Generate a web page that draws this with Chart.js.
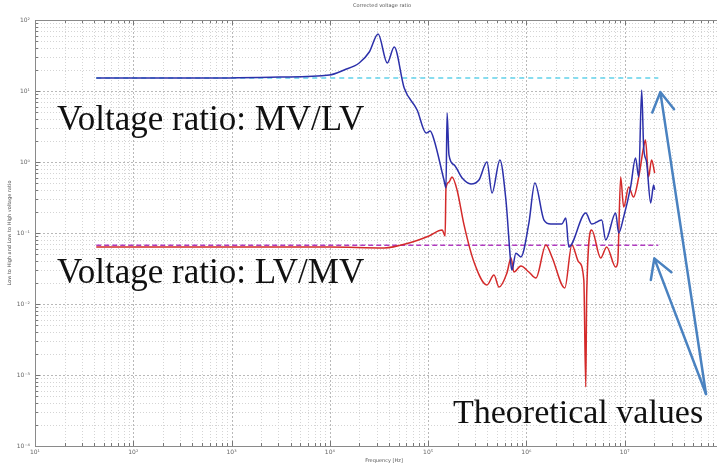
<!DOCTYPE html>
<html>
<head>
<meta charset="utf-8">
<script src="https://cdn.jsdelivr.net/npm/chart.js@4/dist/chart.umd.min.js"></script>
<style>
  html, body { margin: 0; padding: 0; background: #fff; }
  #wrap { width: 717px; height: 465px; }
</style>
</head>
<body>
<div id="wrap"><canvas id="ratioChart" width="717" height="465"></canvas></div>
<script>
// measured MV/LV ratio (blue)
const blueFreq = [42, 473, 3070, 9900, 14000, 19900, 25200, 31000, 38400, 45200, 57100, 77300, 95400, 105000, 115000,
  145000, 152000, 156000, 163000, 184000, 221000, 273000, 329000, 397000, 447000, 538000, 619000, 697000, 713000,
  782000, 879000, 1.06e6, 1.22e6, 1.51e6, 1.77e6, 2.29e6, 2.52e6, 2.70e6, 4.02e6, 4.62e6, 5.84e6, 6.41e6, 8.1e6,
  8.69e6, 9.77e6, 1.15e7, 1.29e7, 1.39e7, 1.49e7, 1.56e7, 1.67e7, 1.84e7, 1.97e7, 2.02e7];
const blueRatio = [15.2, 15.2, 15.7, 16.8, 19.8, 24.8, 35.4, 63.5, 24.8, 41.7, 11.0, 5.4, 2.56, 2.73, 2.04,
  0.557, 0.431, 4.9, 1.26, 0.91, 0.60, 0.49, 0.557, 1.0, 0.366, 1.07, 0.292, 0.0354, 0.030,
  0.052, 0.046, 0.138, 0.506, 0.152, 0.134, 0.134, 0.163, 0.0636, 0.191, 0.134, 0.152, 0.080, 0.191,
  0.1, 0.168, 0.445, 1.14, 0.615, 10.3, 1.63, 1.0, 0.265, 0.474, 0.404];

// measured LV/MV ratio (red)
const redFreq = [42, 9900, 35700, 64100, 102000, 139000, 149000, 152000, 163000, 175000, 197000, 232000, 293000,
  397000, 468000, 526000, 634000, 697000, 747000, 879000, 1.06e6, 1.25e6, 1.58e6, 1.82e6, 2.46e6, 2.90e6, 3.41e6,
  3.84e6, 4.02e6, 4.11e6, 4.62e6, 5.70e6, 6.56e6, 8.1e6, 8.5e6, 9.1e6, 9.77e6, 1.10e7, 1.23e7, 1.39e7, 1.56e7,
  1.63e7, 1.75e7, 1.88e7, 2.02e7];
const redRatio = [0.0636, 0.0636, 0.0616, 0.0723, 0.0908, 0.110, 0.0908, 0.431, 0.52, 0.615, 0.404, 0.130, 0.039,
  0.0185, 0.0256, 0.0173, 0.0274, 0.0445, 0.0282, 0.0343, 0.0282, 0.0232, 0.0678, 0.046, 0.0168, 0.0678, 0.039,
  0.0218, 0.00068, 0.0143, 0.110, 0.0445, 0.0636, 0.0332, 0.039, 0.615, 0.232, 0.445, 0.321, 0.615, 1.63,
  2.04, 0.615, 1.07, 0.70];

// theoretical values (dashed)
const theoryFreq = [42, 2.2e7];
const mvlvTheory = [15.2, 15.2];
const lvmvTheory = [0.067, 0.067];

const xDecades = [1e1, 1e2, 1e3, 1e4, 1e5, 1e6, 1e7];
const yDecades = [1e-4, 1e-3, 1e-2, 1e-1, 1e0, 1e1, 1e2];

const sup = { '-': '⁻', '0': '⁰', '1': '¹', '2': '²', '3': '³', '4': '⁴', '5': '⁵', '6': '⁶', '7': '⁷', '8': '⁸', '9': '⁹' };
function powLabel(v) {
    const e = String(Math.round(Math.log10(v)));
    return '10' + e.split('').map(c => sup[c]).join('');
}

function pairs(xs, ys) {
    return xs.map((x, i) => ({ x: x, y: ys[i] }));
}

function logGrid(min, max) {
    const out = [];
    for (let e = Math.floor(Math.log10(min)); e <= Math.ceil(Math.log10(max)); e++) {
        for (let m = 1; m <= 9; m++) {
            const v = m * Math.pow(10, e);
            if (v >= min * 0.999 && v <= max * 1.001) out.push({ v: v, major: m === 1 });
        }
    }
    return out;
}

function arrow(ctx, tip, tail) {
    const dx = tail.x - tip.x, dy = tail.y - tip.y;
    const ang = Math.atan2(dy, dx), L = 22, th = Math.PI / 6;
    ctx.beginPath();
    ctx.moveTo(tail.x, tail.y);
    ctx.lineTo(tip.x, tip.y);
    ctx.moveTo(tip.x + L * Math.cos(ang + th), tip.y + L * Math.sin(ang + th));
    ctx.lineTo(tip.x, tip.y);
    ctx.lineTo(tip.x + L * Math.cos(ang - th), tip.y + L * Math.sin(ang - th));
    ctx.stroke();
}

const decorations = {
    id: 'decorations',
    beforeDatasetsDraw(chart) {
        const { ctx, chartArea: a, scales: { x, y } } = chart;
        ctx.save();
        ctx.lineWidth = 1;
        logGrid(x.min, x.max).forEach(t => {
            const px = Math.round(x.getPixelForValue(t.v)) + 0.5;
            ctx.strokeStyle = t.major ? '#b8b8b8' : '#d4d4d4';
            ctx.setLineDash(t.major ? [2, 2] : [1, 2]);
            ctx.beginPath(); ctx.moveTo(px, a.top); ctx.lineTo(px, a.bottom); ctx.stroke();
        });
        logGrid(y.min, y.max).forEach(t => {
            const py = Math.round(y.getPixelForValue(t.v)) + 0.5;
            ctx.strokeStyle = t.major ? '#b8b8b8' : '#d4d4d4';
            ctx.setLineDash(t.major ? [2, 2] : [1, 2]);
            ctx.beginPath(); ctx.moveTo(a.left, py); ctx.lineTo(a.right, py); ctx.stroke();
        });
        // tick marks, inside the box
        ctx.setLineDash([]);
        ctx.strokeStyle = '#777';
        logGrid(x.min, x.max).forEach(t => {
            const px = Math.round(x.getPixelForValue(t.v)) + 0.5, l = t.major ? 5 : 3;
            ctx.beginPath();
            ctx.moveTo(px, a.bottom); ctx.lineTo(px, a.bottom - l);
            ctx.moveTo(px, a.top); ctx.lineTo(px, a.top + l);
            ctx.stroke();
        });
        logGrid(y.min, y.max).forEach(t => {
            const py = Math.round(y.getPixelForValue(t.v)) + 0.5, l = t.major ? 5 : 3;
            ctx.beginPath(); ctx.moveTo(a.left, py); ctx.lineTo(a.left + l, py); ctx.stroke();
        });
        ctx.strokeStyle = '#8a8a8a';
        ctx.beginPath();
        ctx.moveTo(a.right, a.top + 0.5); ctx.lineTo(a.left + 0.5, a.top + 0.5);
        ctx.lineTo(a.left + 0.5, a.bottom + 0.5); ctx.lineTo(a.right, a.bottom + 0.5);
        ctx.stroke();
        ctx.restore();
    },
    afterDraw(chart) {
        const { ctx, chartArea: a, scales: { x, y } } = chart;
        ctx.save();
        ctx.fillStyle = '#555';
        ctx.font = '5px "DejaVu Sans"';
        ctx.textAlign = 'center';
        ctx.textBaseline = 'middle';
        ctx.fillText('Corrected voltage ratio', 382, 6);
        ctx.fillText('Frequency [Hz]', 384, 461);
        ctx.translate(10, 233);
        ctx.rotate(-Math.PI / 2);
        ctx.fillText('Low to High and Low to High voltage ratio', 0, 0);
        ctx.restore();

        ctx.save();
        ctx.fillStyle = '#111';
        ctx.font = '35px "Liberation Serif"';
        ctx.textBaseline = 'alphabetic';
        ctx.fillText('Voltage ratio: MV/LV', a.left + 22, 130);
        ctx.fillText('Voltage ratio: LV/MV', a.left + 22, 283);
        ctx.font = '34px "Liberation Serif"';
        ctx.fillText('Theoretical values', 453, 423);

        ctx.strokeStyle = '#4a82c0';
        ctx.lineWidth = 2.5;
        ctx.lineCap = 'round';
        ctx.lineJoin = 'round';
        const endX = x.getPixelForValue(theoryFreq[1]);
        const tail = { x: a.right - 11, y: a.bottom - 52 };
        arrow(ctx, { x: endX + 2, y: y.getPixelForValue(mvlvTheory[1]) + 14 }, tail);
        arrow(ctx, { x: endX - 4, y: y.getPixelForValue(lvmvTheory[1]) + 13 }, tail);
        ctx.restore();
    }
};

const ctx = document.getElementById('ratioChart').getContext('2d');
new Chart(ctx, {
    type: 'scatter',
    data: {
        datasets: [
            {
                label: 'MV/LV',
                data: pairs(blueFreq, blueRatio),
                showLine: true,
                borderColor: '#2c30aa',
                borderWidth: 1.5,
                pointRadius: 0,
                cubicInterpolationMode: 'monotone'
            },
            {
                label: 'LV/MV',
                data: pairs(redFreq, redRatio),
                showLine: true,
                borderColor: '#d42a2a',
                borderWidth: 1.5,
                pointRadius: 0,
                cubicInterpolationMode: 'monotone'
            },
            {
                label: 'MV/LV theoretical',
                data: pairs(theoryFreq, mvlvTheory),
                showLine: true,
                borderColor: '#62d2ea',
                borderWidth: 1.5,
                borderDash: [5, 4],
                pointRadius: 0
            },
            {
                label: 'LV/MV theoretical',
                data: pairs(theoryFreq, lvmvTheory),
                showLine: true,
                borderColor: '#b03cc0',
                borderWidth: 1.5,
                borderDash: [5, 3],
                pointRadius: 0
            }
        ]
    },
    options: {
        responsive: false,
        animation: false,
        events: [],
        layout: { padding: { top: 20, left: 0, right: 0, bottom: 0 } },
        plugins: {
            legend: { display: false },
            tooltip: { enabled: false },
            title: { display: false }
        },
        scales: {
            x: {
                type: 'logarithmic',
                min: 10,
                max: 8.7e7,
                grid: { display: false, drawTicks: false },
                border: { display: false },
                afterBuildTicks: s => { s.ticks = xDecades.map(v => ({ value: v })); },
                afterFit: s => { s.height = 19; },
                ticks: {
                    autoSkip: false,
                    maxRotation: 0,
                    padding: 3,
                    color: '#666',
                    font: { size: 6, family: 'DejaVu Sans' },
                    callback: v => powLabel(v)
                }
            },
            y: {
                type: 'logarithmic',
                min: 1e-4,
                max: 1e2,
                grid: { display: false, drawTicks: false },
                border: { display: false },
                afterBuildTicks: s => { s.ticks = yDecades.map(v => ({ value: v })); },
                afterFit: s => { s.width = 35; },
                ticks: {
                    autoSkip: false,
                    padding: 5,
                    color: '#666',
                    font: { size: 6, family: 'DejaVu Sans' },
                    callback: v => powLabel(v)
                }
            }
        }
    },
    plugins: [decorations]
});
</script>
</body>
</html>
